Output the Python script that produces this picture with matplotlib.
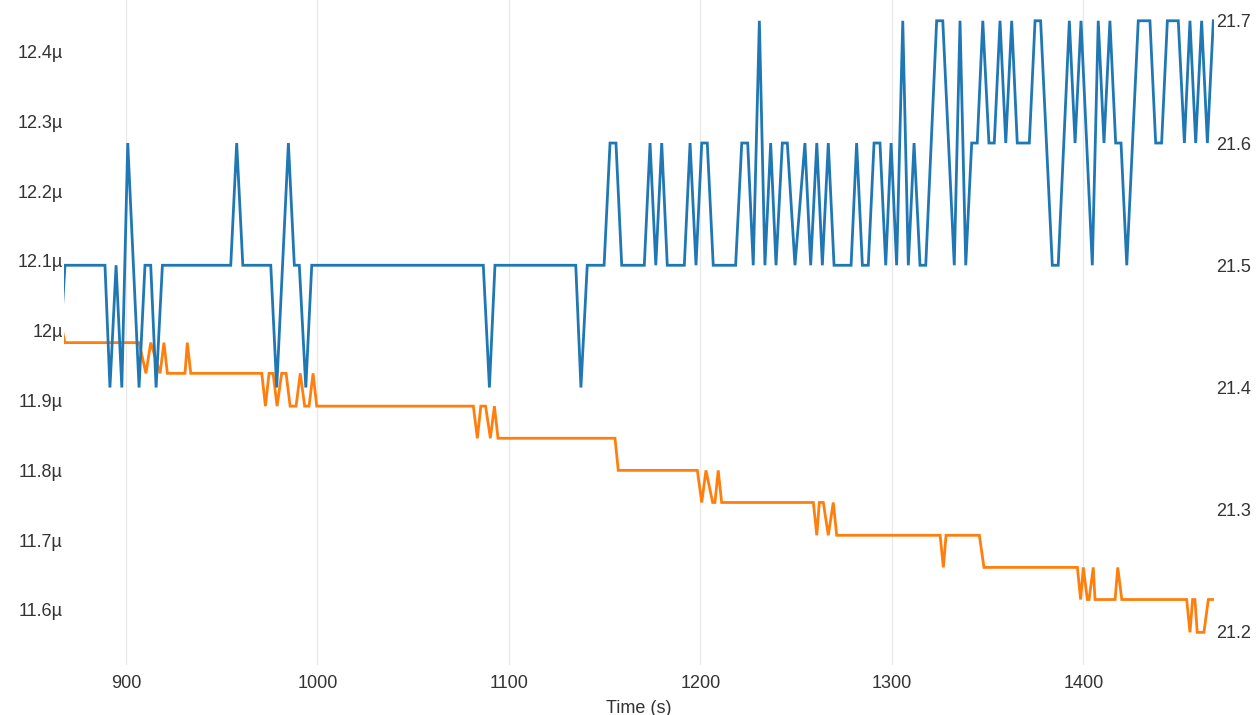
import matplotlib
matplotlib.use("Agg")
import matplotlib.pyplot as plt
from matplotlib.ticker import FuncFormatter

plt.rcParams['font.family'] = ['Liberation Sans', 'DejaVu Sans']

# blue series (right axis): (time s, value)
blue = [
    (864.3, 21.4), (868.1, 21.5), (889.0, 21.5), (891.6, 21.4), (894.8, 21.5),
    (897.8, 21.4), (900.9, 21.6), (906.8, 21.4), (909.9, 21.5), (912.9, 21.5),
    (915.7, 21.4), (919.0, 21.5), (954.7, 21.5), (957.8, 21.6), (961.0, 21.5),
    (975.6, 21.5), (978.7, 21.4), (984.8, 21.6), (987.9, 21.5), (990.5, 21.5),
    (993.9, 21.4), (997.0, 21.5), (1086.6, 21.5), (1089.8, 21.4), (1092.7, 21.5),
    (1134.9, 21.5), (1137.6, 21.4), (1140.9, 21.5), (1149.7, 21.5), (1152.8, 21.6),
    (1155.9, 21.6), (1158.9, 21.5), (1170.7, 21.5), (1173.7, 21.6), (1176.7, 21.5),
    (1179.8, 21.6), (1182.7, 21.5), (1191.6, 21.5), (1194.6, 21.6), (1197.7, 21.5),
    (1200.7, 21.6), (1203.6, 21.6), (1206.7, 21.5), (1218.4, 21.5), (1221.6, 21.6),
    (1224.7, 21.6), (1227.6, 21.5), (1230.8, 21.7), (1233.7, 21.5), (1236.7, 21.6),
    (1239.5, 21.5), (1242.8, 21.6), (1245.4, 21.6), (1249.4, 21.5), (1254.6, 21.6),
    (1257.6, 21.5), (1260.8, 21.6), (1263.7, 21.5), (1266.8, 21.6), (1269.8, 21.5),
    (1278.7, 21.5), (1281.6, 21.6), (1284.6, 21.5), (1287.7, 21.5), (1290.7, 21.6),
    (1293.8, 21.6), (1296.8, 21.5), (1299.6, 21.6), (1302.5, 21.5), (1305.7, 21.7),
    (1308.6, 21.5), (1311.6, 21.6), (1314.7, 21.5), (1317.7, 21.5), (1323.4, 21.7),
    (1326.6, 21.7), (1332.6, 21.5), (1335.6, 21.7), (1338.6, 21.5), (1341.7, 21.6),
    (1344.6, 21.6), (1347.5, 21.7), (1350.7, 21.6), (1353.5, 21.6), (1356.5, 21.7),
    (1359.5, 21.6), (1362.6, 21.7), (1365.5, 21.6), (1371.8, 21.6), (1374.8, 21.7),
    (1377.7, 21.7), (1383.8, 21.5), (1386.9, 21.5), (1392.7, 21.7), (1395.7, 21.6),
    (1398.8, 21.7), (1404.7, 21.5), (1407.8, 21.7), (1410.8, 21.6), (1413.9, 21.7),
    (1416.9, 21.6), (1419.7, 21.6), (1422.7, 21.5), (1428.7, 21.7), (1434.8, 21.7),
    (1437.8, 21.6), (1440.9, 21.6), (1443.9, 21.7), (1449.6, 21.7), (1452.8, 21.6),
    (1455.7, 21.7), (1458.7, 21.6), (1461.8, 21.7), (1464.8, 21.6), (1467.9, 21.7),
]

# orange series (left axis, in micro units): (time s, value)
orange = [
    (864.3, 12.030), (868.1, 11.983), (906.8, 11.983), (910.4, 11.939), (912.9, 11.983),
    (917.8, 11.939), (919.8, 11.983), (921.6, 11.939), (930.8, 11.939), (932.0, 11.983),
    (933.8, 11.939), (970.9, 11.939), (972.8, 11.892), (974.7, 11.939), (976.8, 11.939),
    (978.9, 11.892), (981.3, 11.939), (983.6, 11.939), (985.7, 11.892), (988.8, 11.892),
    (991.0, 11.939), (993.3, 11.892), (995.6, 11.892), (997.7, 11.939), (999.6, 11.892),
    (1081.4, 11.892), (1083.5, 11.846), (1085.3, 11.892), (1087.8, 11.892), (1090.3, 11.846),
    (1092.4, 11.892), (1094.3, 11.846), (1155.4, 11.846), (1157.1, 11.800), (1198.4, 11.800),
    (1200.7, 11.754), (1202.9, 11.800), (1206.4, 11.754), (1207.6, 11.754), (1209.3, 11.800),
    (1211.1, 11.754), (1259.0, 11.754), (1260.8, 11.707), (1262.1, 11.754), (1264.2, 11.754),
    (1266.8, 11.707), (1269.4, 11.754), (1271.2, 11.707), (1325.2, 11.707), (1326.9, 11.661),
    (1328.3, 11.707), (1345.7, 11.707), (1348.1, 11.661), (1396.9, 11.661), (1398.6, 11.615),
    (1400.0, 11.661), (1402.1, 11.615), (1403.0, 11.615), (1405.2, 11.661), (1406.1, 11.615),
    (1416.6, 11.615), (1418.0, 11.661), (1420.1, 11.615), (1454.0, 11.615), (1455.7, 11.568),
    (1457.1, 11.615), (1458.3, 11.615), (1459.5, 11.568), (1463.0, 11.568), (1465.3, 11.615),
    (1467.6, 11.615),
]

x_ticks = [900, 1000, 1100, 1200, 1300, 1400]
left_ticks = [11.6, 11.7, 11.8, 11.9, 12.0, 12.1, 12.2, 12.3, 12.4]
right_ticks = [21.2, 21.3, 21.4, 21.5, 21.6, 21.7]

W, H = 1256, 715
fig = plt.figure(figsize=(W / 100, H / 100), dpi=100)
ax = fig.add_axes([64 / W, (H - 665) / H, (1213.5 - 64) / W, 665 / H])
ax2 = ax.twinx()

text_col = '#333333'
fs = 13

ot, ov = zip(*orange)
bt, bv = zip(*blue)
ax.plot(ot, ov, color='#ff7f0e', lw=2.0, solid_joinstyle='miter')
ax2.plot(bt, bv, color='#1f77b4', lw=2.0, solid_joinstyle='miter')

ax.set_xlim(867.6, 1468.0)
ax.set_ylim(11.5212, 12.4738)
ax2.set_ylim(21.173, 21.717)

ax.set_xticks(x_ticks)
ax.set_yticks(left_ticks)
ax2.set_yticks(right_ticks)
ax.yaxis.set_major_formatter(FuncFormatter(lambda v, p: f"{round(v, 3):g}µ"))
ax2.yaxis.set_major_formatter(FuncFormatter(lambda v, p: f"{round(v, 3):g}"))

for a in (ax, ax2):
    for s in a.spines.values():
        s.set_visible(False)
ax.tick_params(axis='x', length=0, pad=7, labelsize=fs, labelcolor=text_col)
ax.tick_params(axis='y', length=0, pad=1, labelsize=fs, labelcolor=text_col)
ax2.tick_params(axis='y', length=0, pad=2, labelsize=fs, labelcolor=text_col)

ax.grid(axis='x', color='#e8e8e8', lw=0.9)
ax.set_axisbelow(True)
ax.set_xlabel("Time (s)", fontsize=fs, color=text_col, labelpad=6)

fig.savefig("out.png", dpi=100)
